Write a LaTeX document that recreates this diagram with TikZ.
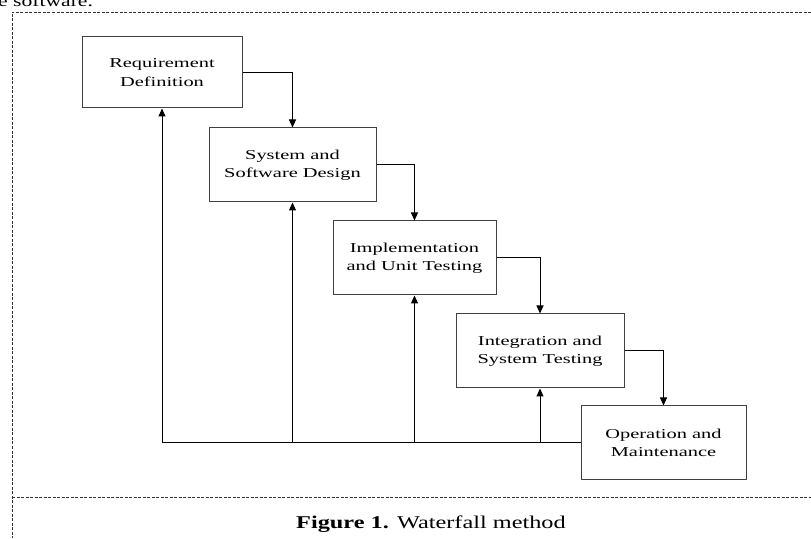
\documentclass[tikz,border=0pt]{standalone}
\usepackage{fontspec}
\setmainfont{Liberation Serif}
\newfontfamily\boxfont[FakeStretch=1.5]{Liberation Serif}
\newfontfamily\capfont[FakeStretch=1.35]{Liberation Serif}
\usetikzlibrary{arrows.meta, positioning}
\usepackage{xcolor}

\begin{document}
\begin{tikzpicture}[
    x=1pt, y=1pt,
    box/.style={draw=black!75, line width=1pt, rectangle, minimum width=165pt, minimum height=74pt, align=center, font=\boxfont\fontsize{13.6}{18.3}\selectfont},
    arrow/.style={-{Triangle[length=8pt, width=7pt]}, line width=1pt},
    line/.style={line width=1pt},
    frame/.style={dash pattern=on 3pt off 1.5pt, line width=0.7pt, black!80}
]
\useasboundingbox (0,0) rectangle (811,538);

% Texto cortado acima e moldura
\node[anchor=base west, inner sep=0pt, font=\capfont\fontsize{16}{20}\selectfont] (prev) at (-2,531) {e software.};
\coordinate (fTL) at (12,526);
\coordinate (fTR) at (811,526);
\coordinate (fML) at (12,41);
\coordinate (fMR) at (811,41);
\coordinate (fBL) at (12,0);
\draw[frame] (fTR) -- (fTL) -- (fBL);
\draw[frame] (fML) -- (fMR);

% Etapas
\node[box, minimum width=160pt, minimum height=71pt] (req) at (162,465.5) {Requirement\\Definition};
\node[box, minimum width=167pt] (design) at (292.5,373) {System and\\Software Design};
\node[box, minimum width=163pt] (impl) at (414.5,280) {Implementation\\and Unit Testing};
\node[box, minimum width=168pt] (integ) at (540,187) {Integration and\\System Testing};
\node[box] (oper) at (663.5,95) {Operation and\\Maintenance};

% Setas em cascata
\draw[arrow] (req.east) -| (design.north);
\draw[arrow] (design.east) -| (impl.north);
\draw[arrow] (impl.east) -| (integ.north);
\draw[arrow] (integ.east) -| (oper.north);

% Retorno
\draw[line] (oper.west) -- (req.south |- oper.west);
\draw[arrow] (req.south |- oper.west) -- (req.south);
\draw[arrow] (design.south |- oper.west) -- (design.south);
\draw[arrow] (impl.south |- oper.west) -- (impl.south);
\draw[arrow] (integ.south |- oper.west) -- (integ.south);

% Legenda
\node[font=\capfont\fontsize{18}{22}\selectfont] (cap) at (431,14) {\textbf{Figure 1.} Waterfall method};

\end{tikzpicture}
\end{document}
